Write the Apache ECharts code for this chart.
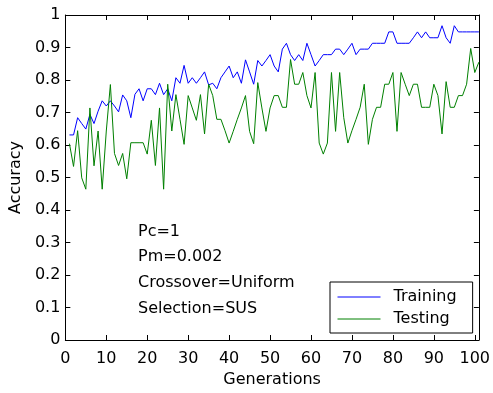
<!DOCTYPE html>
<html>
<head>
<meta charset="utf-8">
<script src="https://cdn.jsdelivr.net/npm/echarts@6/dist/echarts.min.js"></script>
<style>html,body{margin:0;padding:0;background:#fff;}#c{width:493px;height:393px;}</style>
</head>
<body>
<div id="c"></div>
<script>
var generations = [];
for (var g = 1; g <= 101; g++) generations.push(g);

var training = [
  0.631, 0.631, 0.684, 0.666, 0.649, 0.694, 0.666, 0.704, 0.736, 0.720,
  0.736, 0.720, 0.702, 0.754, 0.736, 0.684, 0.756, 0.773, 0.736, 0.773,
  0.773, 0.755, 0.790, 0.755, 0.773, 0.736, 0.807, 0.790, 0.845, 0.790,
  0.807, 0.790, 0.807, 0.825, 0.785, 0.790, 0.773, 0.807, 0.825, 0.843,
  0.807, 0.825, 0.790, 0.862, 0.825, 0.787, 0.860, 0.843, 0.860, 0.878,
  0.843, 0.825, 0.895, 0.913, 0.878, 0.860, 0.878, 0.860, 0.913, 0.878,
  0.843, 0.860, 0.878, 0.878, 0.878, 0.895, 0.895, 0.878, 0.895, 0.913,
  0.878, 0.895, 0.895, 0.895, 0.913, 0.913, 0.913, 0.913, 0.948, 0.948,
  0.913, 0.913, 0.913, 0.913, 0.930, 0.948, 0.930, 0.948, 0.930, 0.930,
  0.930, 0.967, 0.930, 0.913, 0.967, 0.948, 0.948, 0.948, 0.948, 0.948,
  0.948
];

var testing = [
  0.604, 0.534, 0.644, 0.499, 0.464, 0.714, 0.536, 0.643, 0.464, 0.643,
  0.786, 0.574, 0.537, 0.574, 0.496, 0.607, 0.607, 0.607, 0.607, 0.572,
  0.676, 0.537, 0.714, 0.464, 0.787, 0.643, 0.755, 0.679, 0.602, 0.752,
  0.714, 0.676, 0.755, 0.634, 0.787, 0.752, 0.679, 0.679, 0.644, 0.606,
  0.642, 0.679, 0.714, 0.752, 0.642, 0.604, 0.792, 0.714, 0.642, 0.714,
  0.752, 0.752, 0.716, 0.716, 0.863, 0.787, 0.787, 0.823, 0.752, 0.714,
  0.823, 0.606, 0.572, 0.606, 0.823, 0.642, 0.823, 0.684, 0.606, 0.644,
  0.679, 0.716, 0.787, 0.602, 0.679, 0.716, 0.716, 0.787, 0.787, 0.823,
  0.642, 0.823, 0.787, 0.752, 0.787, 0.787, 0.716, 0.716, 0.716, 0.787,
  0.752, 0.634, 0.795, 0.716, 0.716, 0.752, 0.752, 0.787, 0.897, 0.823,
  0.855
];

var seriesNames = ['Training', 'Testing'];
var annotations = ['Pc=1', 'Pm=0.002', 'Crossover=Uniform', 'Selection=SUS'];

function pairs(ys) {
  return ys.map(function (v, i) { return [generations[i], v]; });
}

var FONT = '"DejaVu Sans", "Liberation Sans", Arial, sans-serif';
var black = '#000';

var chart = echarts.init(document.getElementById('c'), null, {renderer: 'canvas'});

var tickStyle = {show: true, inside: true, length: 5, lineStyle: {color: black, width: 1}};
var lineStyleAxis = {show: true, onZero: false, lineStyle: {color: black, width: 1}};

chart.setOption({
  backgroundColor: '#fff',
  animation: false,
  textStyle: {fontFamily: FONT},
  grid: {left: 60, right: 12, top: 15, bottom: 45, containLabel: false},
  xAxis: [{
    type: 'value', min: 0, max: 101, interval: 10, position: 'bottom',
    name: 'Generations', nameLocation: 'middle', nameGap: 32,
    nameTextStyle: {color: black, fontSize: 16, fontFamily: FONT},
    axisLine: lineStyleAxis, axisTick: tickStyle,
    axisLabel: {color: black, fontSize: 16, fontFamily: FONT, margin: 11, showMaxLabel: false},
    splitLine: {show: false}
  }, {
    type: 'value', min: 0, max: 101, interval: 10, position: 'top',
    axisLine: lineStyleAxis, axisTick: tickStyle,
    axisLabel: {show: false}, splitLine: {show: false}
  }],
  yAxis: [{
    type: 'value', min: 0, max: 1, interval: 0.1, position: 'left',
    name: 'Accuracy', nameLocation: 'middle', nameGap: 34,
    nameTextStyle: {color: black, fontSize: 16, fontFamily: FONT},
    axisLine: lineStyleAxis, axisTick: tickStyle,
    axisLabel: {color: black, fontSize: 16, fontFamily: FONT, margin: 5},
    splitLine: {show: false}
  }, {
    type: 'value', min: 0, max: 1, interval: 0.1, position: 'right',
    axisLine: lineStyleAxis, axisTick: tickStyle,
    axisLabel: {show: false}, splitLine: {show: false}
  }],
  legend: {
    data: seriesNames,
    orient: 'vertical',
    left: 330, top: 282,
    backgroundColor: '#fff',
    borderColor: black, borderWidth: 1, borderRadius: 0,
    padding: [7, 16, 6, 7],
    itemWidth: 43, itemHeight: 14, itemGap: 6,
    itemStyle: {opacity: 0},
    lineStyle: {width: 1},
    textStyle: {color: black, fontSize: 16, fontFamily: FONT, padding: [0, 0, 0, 8]}
  },
  series: [{
    name: seriesNames[0], type: 'line', data: pairs(training),
    symbol: 'none', showSymbol: false,
    lineStyle: {color: '#0000ff', width: 1}, itemStyle: {color: '#0000ff'}
  }, {
    name: seriesNames[1], type: 'line', data: pairs(testing),
    symbol: 'none', showSymbol: false,
    lineStyle: {color: '#008000', width: 1}, itemStyle: {color: '#008000'}
  }],
  graphic: annotations.map(function (t, i) {
    var ys = [233, 258, 284, 310];
    return {
      type: 'text', left: 138, top: ys[i] - 9, silent: true,
      style: {text: t, fill: black, font: '16px ' + FONT}
    };
  })
});
</script>
</body>
</html>
